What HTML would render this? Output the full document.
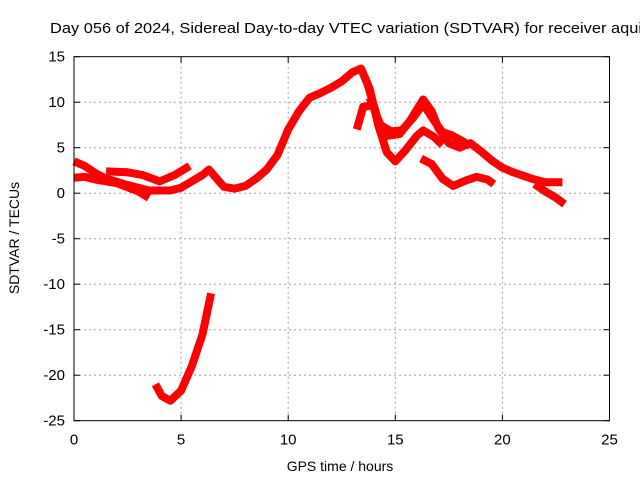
<!DOCTYPE html>
<html><head><meta charset="utf-8"><style>
body{margin:0;background:#fff;}
svg{display:block;font-family:"Liberation Sans",sans-serif;}
</style></head><body>
<svg id="chart" width="640" height="480" viewBox="0 0 640 480">
<rect width="640" height="480" fill="#fff"/>
<g id="grid"></g><g id="series"></g><g id="axes"></g>
<text x="50" y="33" font-size="15" textLength="592" lengthAdjust="spacingAndGlyphs" fill="#000">Day 056 of 2024, Sidereal Day-to-day VTEC variation (SDTVAR) for receiver aqui</text>
<text x="340" y="471" font-size="14" text-anchor="middle" fill="#000">GPS time / hours</text>
<text transform="translate(19,238) rotate(-90)" font-size="14" text-anchor="middle" fill="#000">SDTVAR / TECUs</text>
</svg>
<script>
const xTicks=[0,5,10,15,20,25];
const yTicks=[15,10,5,0,-5,-10,-15,-20,-25];
const seriesMain=[[0,3.5],[0.5,3],[1,2.2],[1.5,1.6],[2.5,0.9],[3.5,0.3],[4.5,0.3],[5,0.6],[5.5,1.3],[6,2],[6.3,2.6],[6.7,1.5],[7,0.7],[7.5,0.5],[8,0.8],[8.5,1.6],[9,2.6],[9.5,4.2],[10,7],[10.5,9],[11,10.5],[11.5,11],[12,11.6],[12.5,12.3],[13,13.3],[13.4,13.7],[13.8,11.5],[14.2,7.5],[14.6,4.5],[15,3.5],[15.5,4.8],[16,6.3],[16.3,6.9],[16.8,6.2],[17.2,5.3]];
const seriesUpper=[[13.4,13.7],[13.7,12],[14.2,8],[14.6,6.3],[15.2,6.5],[15.7,8],[16.3,10.3],[16.7,9],[17,7.2],[17.5,5.5],[18,5],[18.5,5.5],[19,4.6],[19.5,3.6],[20,2.8],[20.5,2.3],[21,1.9],[21.5,1.5],[22,1.2],[22.8,1.2]];
const seriesMid=[[13.8,10.5],[14.3,7.5],[14.8,6.8],[15.3,6.9],[15.8,8.2],[16.3,9.8],[16.8,8],[17.2,6.7],[17.6,6.4],[18,5.9],[18.5,5.2]];
const seriesTail=[[21.5,1],[22,0.2],[22.5,-0.5],[22.9,-1.2]];
const seriesLow1=[[0,1.7],[0.5,1.8],[1,1.5],[2,1.1],[3,0.2],[3.5,-0.5]];
const seriesLow2=[[1.5,2.4],[2.5,2.3],[3.2,2],[4,1.3],[4.7,2],[5.4,3]];
const seriesBottom=[[16.2,3.8],[16.7,3.2],[17.2,1.6],[17.7,0.8],[18.3,1.4],[18.8,1.8],[19.3,1.5],[19.6,1]];
const seriesSpike=[[13.2,7],[13.5,9.5],[13.8,9.6]];
const seriesNeg=[[3.8,-21],[4.1,-22.3],[4.5,-22.8],[5,-21.7],[5.5,-19],[6,-15.5],[6.4,-11]];
const allSeries=[seriesMain,seriesUpper,seriesMid,seriesTail,seriesLow1,seriesLow2,seriesBottom,seriesSpike,seriesNeg];
const names=['series-main','series-upper','series-mid','series-tail','series-low-1','series-low-2','series-bottom','series-spike','series-negative'];
const X0=74,X1=609.5,Y0=56.7,Y1=420.7;
const sx=v=>X0+(v-0)/25*(X1-X0);
const sy=v=>Y0+(15-v)/40*(Y1-Y0);
const NS='http://www.w3.org/2000/svg';
function mk(t,a,p){const e=document.createElementNS(NS,t);for(const k in a)e.setAttribute(k,a[k]);p.appendChild(e);return e;}
const grid=document.getElementById('grid'),axes=document.getElementById('axes'),ser=document.getElementById('series');
xTicks.forEach(v=>{
  if(v>0&&v<25){const l=mk('line',{x1:sx(v),x2:sx(v),y1:Y0,y2:Y1,stroke:'#a0a0a0','stroke-dasharray':'2,3'},grid);
  
  }
  const t=mk('text',{x:sx(v),y:Y1+24,'font-size':15,'text-anchor':'middle'},axes);t.textContent=v;
  
  
  mk('line',{x1:sx(v),x2:sx(v),y1:Y1,y2:Y1-6,stroke:'#000'},axes);
  mk('line',{x1:sx(v),x2:sx(v),y1:Y0,y2:Y0+6,stroke:'#000'},axes);
});
yTicks.forEach(v=>{
  if(v<15&&v>-25){const l=mk('line',{x1:X0,x2:X1,y1:sy(v),y2:sy(v),stroke:'#a0a0a0','stroke-dasharray':'2,3'},grid);
  
  }
  const t=mk('text',{x:X0-9,y:sy(v)+5,'font-size':15,'text-anchor':'end'},axes);t.textContent=v;
  
  
  mk('line',{x1:X0,x2:X0+6,y1:sy(v),y2:sy(v),stroke:'#000'},axes);
  mk('line',{x1:X1,x2:X1-6,y1:sy(v),y2:sy(v),stroke:'#000'},axes);
});
const fr=mk('rect',{x:X0,y:Y0,width:X1-X0,height:Y1-Y0,fill:'none',stroke:'#000'},axes);


allSeries.forEach((s,i)=>{
  const p=mk('polyline',{points:s.map(d=>sx(d[0])+','+sy(d[1])).join(' '),fill:'none',stroke:'#ff0000','stroke-width':8,'stroke-linejoin':'round'},ser);
  
  
});
</script>
</body></html>
